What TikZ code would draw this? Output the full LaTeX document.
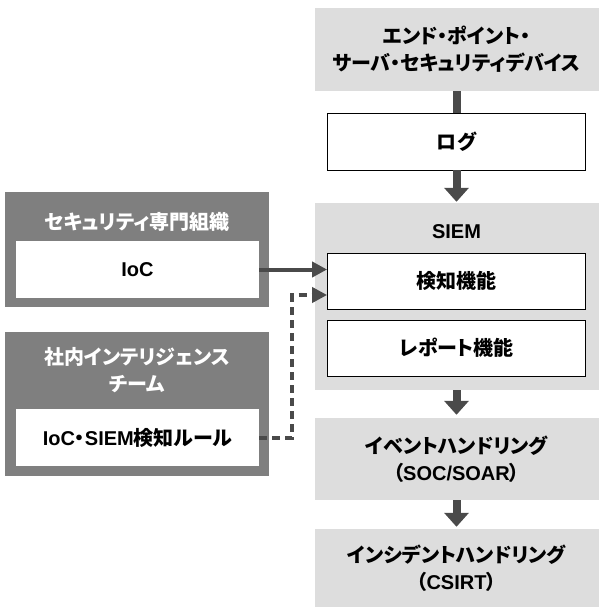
\documentclass[tikz,border=0pt]{standalone}
\usepackage{fontspec}
\setmainfont{Liberation Sans}
\newfontfamily\jp{Noto Sans CJK JP}[RawFeature=+palt]
\usetikzlibrary{arrows.meta,calc}
\definecolor{lightbox}{HTML}{DDDDDD}
\definecolor{darkbox}{HTML}{7F7F7F}
\definecolor{arrowc}{HTML}{4A4A4A}
\tikzset{
  txt/.style={font=\fontsize{20}{27}\selectfont\bfseries, align=center, inner sep=0pt},
  lightnode/.style={txt, fill=lightbox, draw=none, minimum width=284pt},
  whitenode/.style={txt, fill=white, draw=black, line width=0.8pt, minimum width=258pt, minimum height=56pt},
  darknode/.style={fill=darkbox, draw=none, minimum width=264pt, inner sep=0pt},
  innerwhite/.style={txt, fill=white, draw=none, minimum width=243pt, minimum height=57pt},
  darktitle/.style={txt, text=white},
  flow/.style={draw=arrowc, line width=8pt},
  flowarrow/.style={flow, -{Triangle[width=24pt,length=14pt]}},
  feed/.style={draw=arrowc, line width=4pt, -{Triangle[width=15pt,length=15pt]}},
  feeddash/.style={feed, dash pattern=on 8pt off 5pt},
}
\begin{document}
\begin{tikzpicture}[x=1pt,y=-1pt]
\useasboundingbox (0,0) rectangle (599,607);
% right column
\node[lightnode, minimum height=83pt] (src) at (456.5,49.5) {{\jp エンド・ポイント・}\\{\jp サーバ・セキュリティデバイス}};
\node[whitenode, minimum height=57pt] (log) at (456.5,141.5) {\jp ログ};
\node[lightnode, minimum height=187pt] (siem) at (456.5,296.5) {};
\node[txt] (siemt) at (456.5,232) {SIEM};
\node[whitenode] (det) at (456.5,281) {\jp 検知機能};
\node[whitenode] (rep) at (456.5,348) {\jp レポート機能};
\node[lightnode, minimum height=82pt] (ev) at (456.5,459) {{\jp イベントハンドリング}\\{\jp （}SOC/SOAR{\jp ）}};
\node[lightnode, minimum height=78pt] (inc) at (456.5,568) {{\jp インシデントハンドリング}\\{\jp （}CSIRT{\jp ）}};
% left column
\node[darknode, minimum height=115pt] (sec) at (137,249.5) {};
\node[darktitle] (sect) at (137,222) {\jp セキュリティ専門組織};
\node[innerwhite] (ioc) at (137.5,269.5) {IoC};
\node[darknode, minimum height=144pt] (team) at (137,404) {};
\node[darktitle] (teamt) at (137,370) {{\jp 社内インテリジェンス}\\{\jp チーム}};
\node[innerwhite] (rule) at (137.5,437.5) {IoC{\jp ・}SIEM{\jp 検知ルール}};
% connectors
\draw[flow] (src.south) -- (log.north);
\draw[flowarrow] (log.south) -- ($(siem.north)+(0,-1)$);
\draw[flowarrow] (siem.south) -- ($(ev.north)+(0,-3)$);
\draw[flowarrow] (ev.south) -- ($(inc.north)+(0,-2)$);
\draw[feed] (ioc.east) -- (ioc.east -| det.west);
\coordinate (dashend) at ($(det.west)+(0,14)$);
\draw[feeddash] (rule.east) -- ++(33,0) |- (dashend);
\end{tikzpicture}
\end{document}
